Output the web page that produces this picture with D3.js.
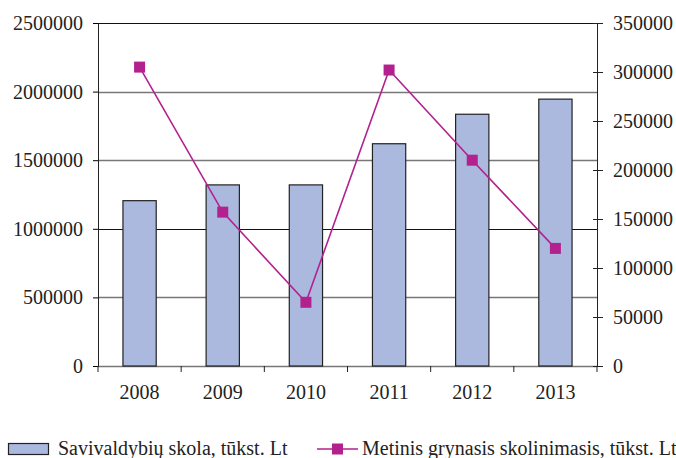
<!DOCTYPE html>
<html>
<head>
<meta charset="utf-8">
<script src="https://cdn.jsdelivr.net/npm/d3@7"></script>
<style>
  body { margin: 0; background: #fff; }
  text { font-family: "Liberation Serif", "DejaVu Serif", serif; fill: #222; }
</style>
</head>
<body>
<div id="container"></div>
<script>
/* DATA */
const years = ["2008", "2009", "2010", "2011", "2012", "2013"];
const debt = [1205000, 1320000, 1320000, 1620000, 1835000, 1945000];
const borrowing = [305000, 157000, 65000, 302000, 210000, 120000];
const leftTicks = [0, 500000, 1000000, 1500000, 2000000, 2500000];
const rightTicks = [0, 50000, 100000, 150000, 200000, 250000, 300000, 350000];
const seriesNames = ["Savivaldybių skola, tūkst. Lt", "Metinis grynasis skolinimasis, tūkst. Lt"];

/* CONSTANTS */
const width = 676;
const height = 458;
const plotLeft = 98, plotRight = 597, plotTop = 23, plotBottom = 366;
const barFill = "#abb9de";
const lineColor = "#b3218f";

const svg = d3.select("#container")
  .append("svg")
  .attr("width", width)
  .attr("height", height)

const xScale = d3.scaleBand()
  .domain(years)
  .range([plotLeft, plotRight])

const yLeft = d3.scaleLinear()
  .domain([0, 2500000])
  .range([plotBottom, plotTop])

const yRight = d3.scaleLinear()
  .domain([0, 350000])
  .range([plotBottom, plotTop])

// gridlines (some look darker than others in the original)
svg.selectAll(".grid")
  .data(leftTicks)
  .join("line")
  .attr("class", "grid")
  .attr("x1", plotLeft)
  .attr("x2", plotRight)
  .attr("y1", d => Math.round(yLeft(d)) + 0.5)
  .attr("y2", d => Math.round(yLeft(d)) + 0.5)
  .attr("stroke", (d, i) => (i == 2 || i == 5) ? "#111" : "#777")
  .attr("stroke-width", (d, i) => (i == 2 || i == 5) ? 1 : 1.6)

// bars
const barW = xScale.bandwidth() * 0.4;
svg.selectAll(".bar")
  .data(years)
  .join("rect")
  .attr("class", "bar")
  .attr("x", d => xScale(d) + xScale.bandwidth() / 2 - barW / 2)
  .attr("y", (d, i) => yLeft(debt[i]))
  .attr("width", barW)
  .attr("height", (d, i) => plotBottom - yLeft(debt[i]))
  .attr("fill", barFill)
  .attr("stroke", "#222")
  .attr("stroke-width", 1.2)

// left axis
const yAxisL = d3.axisLeft(yLeft).tickValues(leftTicks).tickFormat(d3.format("d")).tickSize(5).tickPadding(10)
const gL = svg.append("g")
  .attr("transform", `translate(${plotLeft}, 0)`)
  .call(yAxisL)
gL.select(".domain").attr("stroke", "#222")
gL.selectAll("text").style("font-size", "20px").attr("fill", "#222")

// right axis
const yAxisR = d3.axisRight(yRight).tickValues(rightTicks).tickFormat(d3.format("d")).tickSize(6).tickPadding(10)
const gR = svg.append("g")
  .attr("transform", `translate(${plotRight}, 0)`)
  .call(yAxisR)
gR.select(".domain").attr("stroke", "#222")
gR.selectAll(".tick line").attr("x1", -4).attr("stroke", "#222")
gR.selectAll("text").style("font-size", "20px").attr("fill", "#222")

// x axis: ticks at category boundaries
const gX = svg.append("g")
  .attr("transform", `translate(0, ${plotBottom})`)
gX.selectAll(".xtick")
  .data(years.concat(["end"]))
  .join("line")
  .attr("x1", (d, i) => i < years.length ? xScale(d) : plotRight)
  .attr("x2", (d, i) => i < years.length ? xScale(d) : plotRight)
  .attr("y1", 0)
  .attr("y2", 6)
  .attr("stroke", "#222")
gX.selectAll(".xlabel")
  .data(years)
  .join("text")
  .attr("x", d => xScale(d) + xScale.bandwidth() / 2)
  .attr("y", 33)
  .attr("text-anchor", "middle")
  .style("font-size", "20px")
  .text(d => d)

// line series
const line = d3.line()
  .x((d, i) => xScale(years[i]) + xScale.bandwidth() / 2)
  .y(d => yRight(d))

svg.append("path")
  .datum(borrowing)
  .attr("d", line)
  .attr("fill", "none")
  .attr("stroke", lineColor)
  .attr("stroke-width", 1.6)

svg.selectAll(".marker")
  .data(borrowing)
  .join("rect")
  .attr("class", "marker")
  .attr("x", (d, i) => xScale(years[i]) + xScale.bandwidth() / 2 - 5.5)
  .attr("y", d => yRight(d) - 5.5)
  .attr("width", 11)
  .attr("height", 11)
  .attr("fill", lineColor)

// legend
const lg = svg.append("g")
lg.append("rect")
  .attr("x", 8.5).attr("y", 443.5)
  .attr("width", 40).attr("height", 11)
  .attr("fill", barFill).attr("stroke", "#222").attr("stroke-width", 1.2)
lg.append("text")
  .attr("x", 58).attr("y", 455)
  .style("font-size", "20px")
  .text(seriesNames[0])
lg.append("line")
  .attr("x1", 317).attr("x2", 358).attr("y1", 449).attr("y2", 449)
  .attr("stroke", lineColor).attr("stroke-width", 1.6)
lg.append("rect")
  .attr("x", 332).attr("y", 443.5).attr("width", 11).attr("height", 11)
  .attr("fill", lineColor)
lg.append("text")
  .attr("x", 362).attr("y", 455)
  .style("font-size", "20px")
  .text(seriesNames[1])
</script>
</body>
</html>
